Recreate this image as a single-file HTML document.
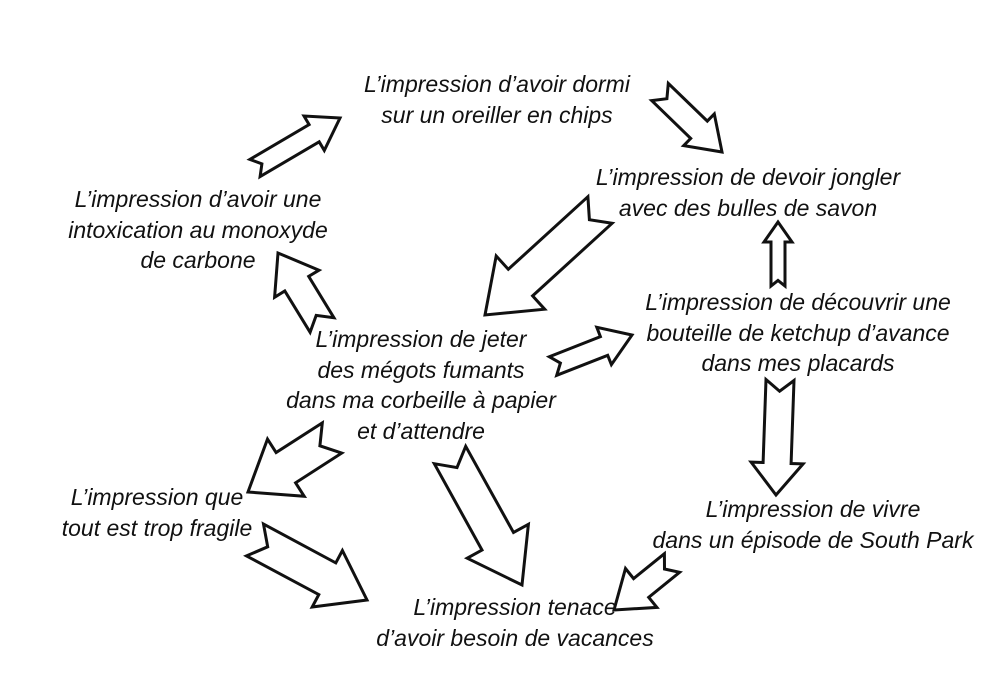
<!DOCTYPE html>
<html><head><meta charset="utf-8"><style>
html,body{margin:0;padding:0;background:#fff;}
#c{position:relative;width:1005px;height:698px;overflow:hidden;background:#fff;}
.t{position:absolute;font-family:"Liberation Sans",sans-serif;font-style:italic;font-size:23px;line-height:30.5px;color:#111;text-align:center;white-space:nowrap;transform:translateX(-50%);}
svg{position:absolute;left:0;top:0;}
</style></head><body><div id="c">
<svg id="s" width="1005" height="698"></svg>
<div class="t" style="left:497px;top:69px">L’impression d’avoir dormi<br>sur un oreiller en chips</div>
<div class="t" style="left:748px;top:162px">L’impression de devoir jongler<br>avec des bulles de savon</div>
<div class="t" style="left:198px;top:184px">L’impression d’avoir une<br>intoxication au monoxyde<br>de carbone</div>
<div class="t" style="left:798px;top:287px">L’impression de découvrir une<br>bouteille de ketchup d’avance<br>dans mes placards</div>
<div class="t" style="left:421px;top:324px">L’impression de jeter<br>des mégots fumants<br>dans ma corbeille à papier<br>et d’attendre</div>
<div class="t" style="left:157px;top:482px">L’impression que<br>tout est trop fragile</div>
<div class="t" style="left:813px;top:494px">L’impression de vivre<br>dans un épisode de South Park</div>
<div class="t" style="left:515px;top:592px">L’impression tenace<br>d’avoir besoin de vacances</div>
<script>
var A=[
[255,168,340,118,10,20,30],
[660,92,722,152,12,22,32],
[600,210,485,315,18,36,48],
[322,325,278,253,14,26,36],
[553,366,632,335,10,20,30],
[778,286,778,222,7,14,20],
[780,380,776,495,14,26,32],
[332,438,248,492,18,34,45],
[450,455,522,585,18,35,50],
[255,540,367,600,18,32,45],
[672,563,614,610,12,25,35]];
var s='';
A.forEach(function(a){
var tx=a[0],ty=a[1],px=a[2],py=a[3],w=a[4],h=a[5],L=a[6];
var dx=px-tx,dy=py-ty,d=Math.hypot(dx,dy);var ux=dx/d,uy=dy/d,nx=-uy,ny=ux;
var bx=px-ux*L,by=py-uy*L;
function p(x,y){return x.toFixed(1)+','+y.toFixed(1);}
var pts=[p(tx+nx*w,ty+ny*w),p(bx+nx*w,by+ny*w),p(bx+nx*h,by+ny*h),p(px,py),p(bx-nx*h,by-ny*h),p(bx-nx*w,by-ny*w),p(tx-nx*w,ty-ny*w),p(tx+ux*w*0.8,ty+uy*w*0.8)];
s+='<polygon points="'+pts.join(' ')+'" fill="#fff" stroke="#111" stroke-width="3" stroke-linejoin="miter"/>';
});
document.getElementById('s').innerHTML=s;
</script>
</div></body></html>
